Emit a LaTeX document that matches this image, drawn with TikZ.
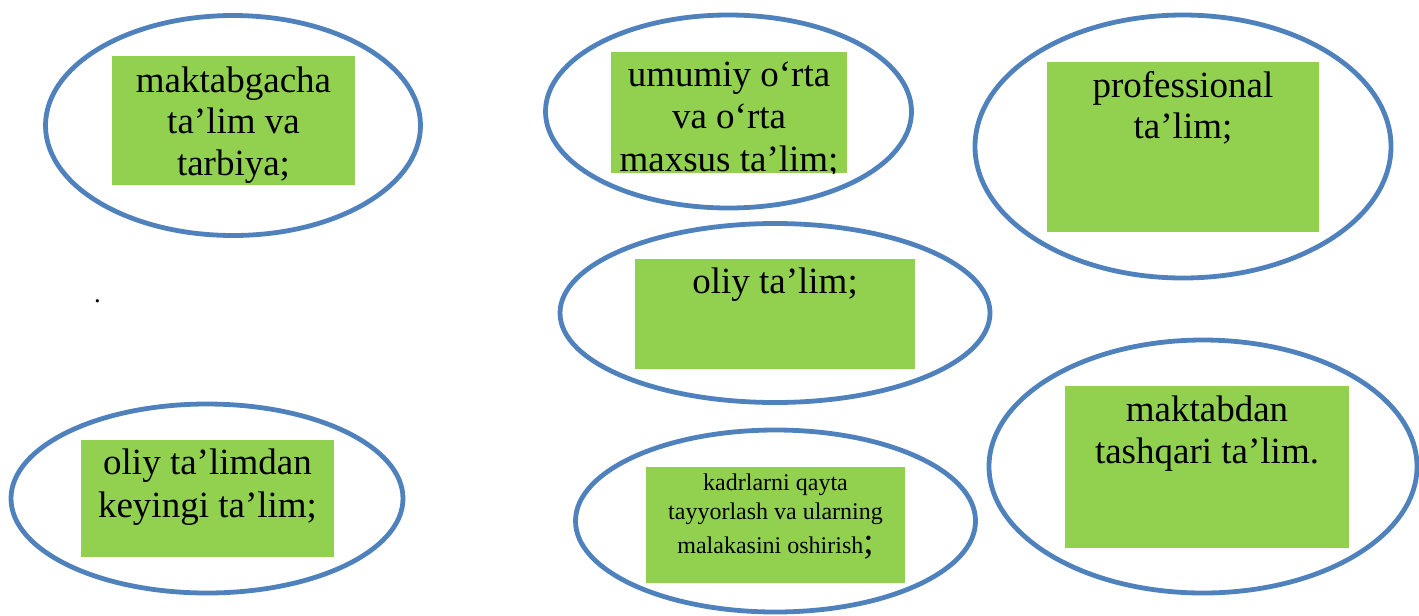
\documentclass[tikz,border=0pt]{standalone}
\usepackage{fontspec}
\setmainfont{Liberation Serif}
\usetikzlibrary{shapes.geometric}
\definecolor{ringblue}{HTML}{4F81BD}
\definecolor{boxgreen}{HTML}{92D050}
\tikzset{
  ring/.style 2 args={ellipse, draw=ringblue, line width=3.6pt, inner sep=0pt,
    minimum width={2*#1*0.75pt}, minimum height={2*#2*0.75pt}},
  gbox/.style 2 args={rectangle, fill=boxgreen, draw=none, inner sep=0pt,
    minimum width={#1*0.75pt}, minimum height={#2*0.75pt}},
  bigtxt/.style={inner sep=0pt, anchor=base, font=\fontsize{27.75pt}{31.5pt}\selectfont},
  smalltxt/.style={inner sep=0pt, anchor=base, font=\fontsize{18pt}{21pt}\selectfont},
  dottxt/.style={inner sep=0pt, anchor=base, font=\fontsize{20pt}{24pt}\selectfont}
}
\begin{document}
\begin{tikzpicture}[x=0.75pt,y=-0.75pt]
\useasboundingbox (0,0) rectangle (1419,615);
% ellipses
\node[ring={187.5}{110}] (e1) at (233,125.5) {};
\node[ring={183}{96.5}] (e2) at (728.5,111.5) {};
\node[ring={208}{131.5}] (e3) at (1183,146.5) {};
\node[ring={215}{89.5}] (e4) at (775,313) {};
\node[ring={196}{94.5}] (e5) at (207,498.5) {};
\node[ring={200}{91}] (e6) at (775.5,521) {};
\node[ring={214}{126.5}] (e7) at (1203,466.5) {};
% green boxes
\node[gbox={243}{129}] (r1) at (233.5,120.5) {};
\node[gbox={236}{121}] (r2) at (729,112.5) {};
\node[gbox={272}{170}] (r3) at (1183,147) {};
\node[gbox={280}{110}] (r4) at (775,314) {};
\node[gbox={253}{117}] (r5) at (207.5,498.5) {};
\node[gbox={259}{116}] (r6) at (775.5,525) {};
\node[gbox={284}{162}] (r7) at (1207,467) {};
% texts
\node[bigtxt] (t1a) at (233.5,92) {maktabgacha};
\node[bigtxt] (t1b) at (233.5,133) {ta’lim va};
\node[bigtxt] (t1c) at (233.5,175) {tarbiya;};
\begin{scope}
\clip (611,52) rectangle (847,173);
\node[bigtxt] (t2a) at (729,86) {umumiy o‘rta};
\node[bigtxt] (t2b) at (729,128) {va o‘rta};
\node[bigtxt] (t2c) at (729,171.5) {maxsus ta’lim;};
\end{scope}
\node[bigtxt] (t3a) at (1183,97) {professional};
\node[bigtxt] (t3b) at (1183,138) {ta’lim;};
\node[bigtxt] (t4a) at (775,293) {oliy ta’lim;};
\node[bigtxt] (t5a) at (207.5,474) {oliy ta’limdan};
\node[bigtxt] (t5b) at (207.5,517) {keyingi ta’lim;};
\node[smalltxt] (t6a) at (775.5,490) {kadrlarni qayta};
\node[smalltxt] (t6b) at (775.5,519) {tayyorlash va ularning};
\node[smalltxt] (t6c) at (775.5,553) {malakasini oshirish{\fontsize{27.75pt}{31.5pt}\selectfont;}};
\node[bigtxt] (t7a) at (1207,421) {maktabdan};
\node[bigtxt] (t7b) at (1207,463) {tashqari ta’lim.};
\node[dottxt] (dot) at (97.5,302) {.};
\end{tikzpicture}
\end{document}
